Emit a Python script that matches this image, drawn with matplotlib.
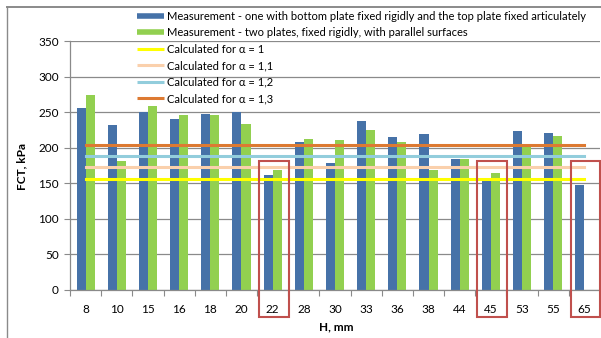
import matplotlib
matplotlib.use("Agg")
import matplotlib.pyplot as plt
from matplotlib.lines import Line2D
from matplotlib.patches import Rectangle
import numpy as np

plt.rcParams['font.family'] = ['Lato', 'DejaVu Sans']

# Specimen height H, mm
heights = ["8", "10", "15", "16", "18", "20", "22", "28", "30", "33",
           "36", "38", "44", "45", "53", "55", "65"]

# Measured FCT, kPa
fct_articulated = [255.5, 231.7, 250.9, 241.0, 246.7, 249.5, 161.2, 207.4, 178.4,
                   236.9, 214.4, 218.6, 184.6, 155.1, 222.8, 220.0, 148.1]
fct_rigid = [274.7, 181.2, 258.3, 245.7, 245.3, 234.0, 168.6, 211.6, 210.2,
             224.2, 207.4, 168.2, 184.6, 164.0, 200.9, 215.8, np.nan]

# Calculated FCT for different alpha coefficients
alpha_labels = ["1", "1,1", "1,2", "1,3"]
fct_calculated = [156.5, 172.2, 187.8, 203.5]
calc_colors = ["#FFFF00", "#FAD0AC", "#92CDDC", "#DD7A32"]

# Heights marked with a frame
marked = ["22", "45", "65"]

blue = "#4672A8"
green = "#92D050"
frame_red = "#C0504D"
grid_grey = "#8A8A8A"

fig = plt.figure(figsize=(6.01, 3.38), dpi=100)
ax = fig.add_axes([70 / 601, 48 / 338, 530 / 601, 249 / 338])

x = np.arange(len(heights))
w = 0.29
ax.bar(x - w / 2, fct_articulated, width=w, color=blue, zorder=2)
ax.bar(x + w / 2, fct_rigid, width=w, color=green, zorder=2)

for val, col in zip(fct_calculated, calc_colors):
    ax.plot([x[0], x[-1]], [val, val], color=col, lw=2.2, zorder=3,
            solid_capstyle="projecting")

for h in marked:
    i = heights.index(h)
    ax.add_patch(Rectangle((i - 0.44, -38), 0.95, 220, fill=False,
                           edgecolor=frame_red, lw=1.5, clip_on=False, zorder=4))

ax.set_xlim(-0.5, len(heights) - 0.5)
ax.set_ylim(0, 350)
ax.set_yticks(np.arange(0, 351, 50))
ax.set_xticks(x)
ax.set_xticklabels(heights)
ax.set_xticks(np.arange(-0.5, len(heights), 1.0), minor=True)
ax.tick_params(axis="x", which="major", length=0, pad=10, labelsize=8.5, colors="black")
ax.tick_params(axis="x", which="minor", length=4, color=grid_grey, width=0.8)
ax.tick_params(axis="y", length=4, color=grid_grey, width=0.8, pad=4, labelsize=8.5)

ax.yaxis.grid(True, color=grid_grey, lw=0.9, zorder=0)
ax.set_axisbelow(True)
for side in ["top", "right"]:
    ax.spines[side].set_visible(False)
ax.spines["left"].set_color(grid_grey)
ax.spines["bottom"].set_color(grid_grey)
ax.spines["left"].set_linewidth(0.9)
ax.spines["bottom"].set_linewidth(0.9)
ax.spines["left"].set_zorder(5)

fig.text(22 / 601, 1 - 167 / 338, "FCT, kPa", rotation=90, fontsize=8.5,
         fontweight="bold", ha="center", va="center")
fig.text(336 / 601, 1 - 327 / 338, "H, mm", fontsize=8.5, fontweight="bold",
         ha="center", va="center")

handles = [Line2D([], [], color=blue, lw=4, solid_capstyle="butt"),
           Line2D([], [], color=green, lw=4, solid_capstyle="butt")]
labels = ["Measurement - one with bottom plate fixed rigidly and the top plate fixed articulately",
          "Measurement - two plates, fixed rigidly, with parallel surfaces"]
for a, col in zip(alpha_labels, calc_colors):
    handles.append(Line2D([], [], color=col, lw=2.2, solid_capstyle="butt"))
    labels.append("Calculated for \u03b1 = " + a)

fig.legend(handles, labels, loc="upper left", bbox_to_anchor=(137 / 601, 1 - 10.5 / 338),
           frameon=False, fontsize=8, borderpad=0, borderaxespad=0,
           handlelength=2.4, handletextpad=0.3, labelspacing=0.5)

# Outer chart frame
fig.add_artist(Line2D([7 / 601, 7 / 601], [0, 1 - 7 / 338], color=grid_grey, lw=1.0))
fig.add_artist(Line2D([7 / 601, 1], [1 - 7 / 338, 1 - 7 / 338], color=grid_grey, lw=1.4))

fig.savefig("out.png", dpi=100)
